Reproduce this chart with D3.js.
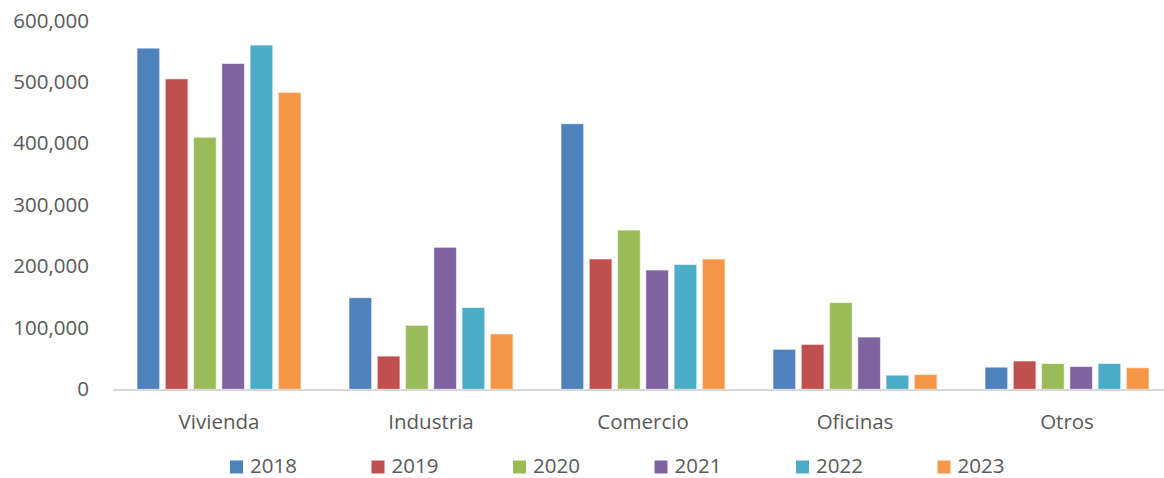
<!DOCTYPE html>
<html>
<head>
<meta charset="utf-8">
<script src="https://cdn.jsdelivr.net/npm/d3@7"></script>
<style>
  html, body { margin: 0; padding: 0; background: #fff; }
  text { font-family: "Open Sans", "Noto Sans", sans-serif; fill: #595959; }
</style>
</head>
<body>
<svg id="chart" width="1164" height="478"></svg>
<script>
const categories = ["Vivienda", "Industria", "Comercio", "Oficinas", "Otros"];
const years = ["2018", "2019", "2020", "2021", "2022", "2023"];
const s2018 = [555000, 149000, 432000, 65000, 36000];
const s2019 = [505000, 54000, 212000, 73000, 46000];
const s2020 = [410000, 104000, 259000, 141000, 42000];
const s2021 = [530000, 231000, 194000, 85000, 37000];
const s2022 = [560000, 133000, 203000, 23000, 42000];
const s2023 = [483000, 90000, 212000, 24000, 35000];
const seriesValues = [s2018, s2019, s2020, s2021, s2022, s2023];
const colors = ["#4F81BD", "#C0504D", "#9BBB59", "#8064A2", "#4BACC6", "#F79646"];
const yTicks = [0, 100000, 200000, 300000, 400000, 500000, 600000];

const svg = d3.select("#chart");
const x0 = d3.scaleBand().domain(categories).range([113, 1173]).paddingInner(0.2).paddingOuter(0.1);
const x1 = d3.scaleBand().domain(years).range([0, x0.bandwidth()]).paddingInner(0.2).paddingOuter(0.1);
const y = d3.scaleLinear().domain([0, 600000]).range([389.3, 20.5]);
const color = d3.scaleOrdinal().domain(years).range(colors);

// y axis labels
const yAxis = d3.axisLeft(y).tickValues(yTicks).tickFormat(d3.format(",")).tickSize(0).tickPadding(0);
const gy = svg.append("g").attr("transform", "translate(89,0)").call(yAxis);
gy.select(".domain").remove();
gy.selectAll("text").attr("font-size", "20.5px").attr("fill", "#595959")
  .style("font-family", '"Open Sans", sans-serif');

// bars
const groups = svg.append("g").selectAll("g").data(categories).join("g")
  .attr("transform", d => `translate(${x0(d)},0)`);
groups.selectAll("rect")
  .data((c, ci) => years.map((yr, si) => ({ yr, v: seriesValues[si][ci] })))
  .join("rect")
  .attr("x", d => x1(d.yr))
  .attr("width", x1.bandwidth())
  .attr("y", d => y(d.v))
  .attr("height", d => y(0) - y(d.v))
  .attr("fill", d => color(d.yr))
  .attr("stroke", "#ffffff")
  .attr("stroke-opacity", 0.55)
  .attr("stroke-width", 1);

// x axis
const xAxis = d3.axisBottom(x0).tickSize(0).tickPadding(0);
const gx = svg.append("g").attr("transform", `translate(0,${y(0)})`).call(xAxis);
gx.select(".domain").remove();
gx.selectAll("text").attr("font-size", "20.5px").attr("fill", "#595959").attr("dy", null)
  .attr("y", 39.7).style("font-family", '"Open Sans", sans-serif');
svg.append("line").attr("x1", 113).attr("x2", 1164).attr("y1", y(0) + 0.7).attr("y2", y(0) + 0.7)
  .attr("stroke", "#D9D9D9").attr("stroke-width", 2);

// legend
const legendX = d3.scalePoint().domain(years).range([230, 937.5]);
const lg = svg.append("g").selectAll("g").data(years).join("g")
  .attr("transform", d => `translate(${legendX(d)},0)`);
lg.append("rect").attr("x", 0).attr("y", 460.5).attr("width", 13).attr("height", 13)
  .attr("fill", d => color(d));
lg.append("text").attr("x", 20).attr("y", 473).attr("font-size", "20.5px").text(d => d);
</script>
</body>
</html>
